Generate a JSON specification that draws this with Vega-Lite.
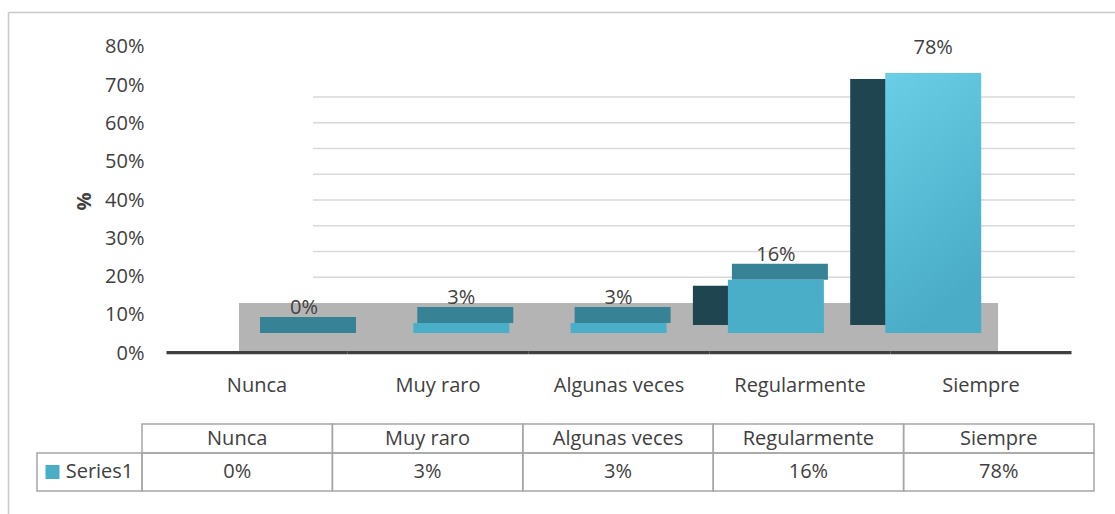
{
  "$schema": "https://vega.github.io/schema/vega-lite/v6.json",
  "width": 1107,
  "height": 502,
  "autosize": {"type": "none"},
  "padding": {"left": 8, "top": 12, "right": 0, "bottom": 0},
  "background": "white",
  "config": {
    "view": {"stroke": null},
    "font": "Open Sans",
    "axis": {"grid": false},
    "text": {"font": "Open Sans"}
  },
  "datasets": {
    "main": [
      {"cat": "Nunca", "value": 0, "series": "Series1"},
      {"cat": "Muy raro", "value": 0.03, "series": "Series1"},
      {"cat": "Algunas veces", "value": 0.03, "series": "Series1"},
      {"cat": "Regularmente", "value": 0.16, "series": "Series1"},
      {"cat": "Siempre", "value": 0.78, "series": "Series1"}
    ],
    "grid": [
      {"v": 0.1}, {"v": 0.2}, {"v": 0.3}, {"v": 0.4},
      {"v": 0.5}, {"v": 0.6}, {"v": 0.7}, {"v": 0.8}
    ]
  },
  "data": {"name": "main"},
  "resolve": {
    "scale": {"x": "independent", "y": "independent"},
    "axis": {"x": "independent", "y": "independent"}
  },
  "layer": [
    {
      "data": {"name": "grid"},
      "mark": {"type": "rule", "color": "#d9d9d9", "strokeWidth": 1.5},
      "encoding": {
        "x": {"datum": 0.1626, "type": "quantitative",
              "scale": {"domain": [-0.1725, 1.0439], "nice": false, "zero": false},
              "axis": {"orient": "top", "domain": true, "domainColor": "#c8c8c8", "domainWidth": 1.5,
                       "labels": false, "ticks": false, "grid": false, "title": null}},
        "x2": {"datum": 1},
        "y": {"field": "v", "type": "quantitative",
              "scale": {"domain": [-0.8194, 1.1301], "nice": false, "zero": false},
              "axis": {"orient": "left", "offset": 0, "domain": true, "domainColor": "#c8c8c8", "domainWidth": 1.5,
                       "labels": false, "ticks": false, "grid": false, "title": null}}
      }
    },
    {
      "data": {"values": [{}]},
      "mark": {"type": "rect", "color": "#b4b4b4"},
      "encoding": {
        "x": {"datum": 0.0813, "type": "quantitative",
              "scale": {"domain": [-0.1725, 1.0439], "nice": false, "zero": false}, "axis": null},
        "x2": {"datum": 0.9154},
        "y": {"datum": 0.1307, "type": "quantitative",
              "scale": {"domain": [-0.4209, 0.8915], "nice": false, "zero": false},
              "axis": {"orient": "left", "offset": -157,
                       "values": [0, 0.1, 0.2, 0.3, 0.4, 0.5, 0.6, 0.7, 0.8],
                       "format": ".0%", "domain": false, "ticks": false, "tickSize": 0,
                       "labelPadding": 21, "labelFontSize": 20, "labelColor": "#404040",
                       "grid": false, "title": "%", "titleFontSize": 20, "titleFontWeight": "bold",
                       "titleColor": "#404040", "titlePadding": 10, "titleY": 189}},
        "y2": {"datum": 0}
      }
    },
    {
      "mark": {"type": "rect", "color": "#404040"},
      "encoding": {
        "x": {"field": "cat", "type": "nominal",
              "scale": {"domain": ["Nunca", "Muy raro", "Algunas veces", "Regularmente", "Siempre"],
                        "range": [158.5, 1063.5], "paddingInner": 0, "paddingOuter": 0},
              "axis": {"orient": "bottom", "offset": -144, "domain": false, "ticks": false, "tickSize": 0,
                       "labelPadding": 5, "labelFontSize": 20, "labelColor": "#404040",
                       "labelAngle": 0, "grid": false, "title": null}},
        "y": {"datum": 0.005, "type": "quantitative",
              "scale": {"domain": [-0.4209, 0.8915], "nice": false, "zero": false}, "axis": null},
        "y2": {"datum": -0.003}
      }
    },
    {
      "encoding": {
        "x": {"field": "cat", "type": "nominal",
              "scale": {"domain": ["Nunca", "Muy raro", "Algunas veces", "Regularmente", "Siempre"],
                        "range": [248, 973.2], "paddingInner": 0.3897, "paddingOuter": 0},
              "axis": null},
        "y": {"field": "value", "type": "quantitative",
              "scale": {"domain": [-0.543, 0.963], "nice": false, "zero": false}, "axis": null}
      },
      "layer": [
        {
          "transform": [{"filter": "datum.value > 0.1"}],
          "mark": {"type": "bar", "color": "#1f4550", "xOffset": -35, "yOffset": 6, "y2Offset": -8},
          "encoding": {"y2": {"datum": 0}}
        },
        {
          "transform": [{"filter": "datum.value < 0.5"}],
          "mark": {"type": "bar", "color": "#388296", "yOffset": -16, "xOffset": 4},
          "encoding": {"y2": {"field": "value"}}
        },
        {
          "transform": [{"filter": "datum.value < 0.5"}],
          "mark": {"type": "bar", "color": "#4aaec9"},
          "encoding": {"y2": {"datum": 0}}
        },
        {
          "transform": [{"filter": "datum.value >= 0.5"}],
          "mark": {"type": "bar",
                   "color": {"gradient": "linear", "x1": 0, "y1": 0, "x2": 0.3, "y2": 1,
                             "stops": [{"offset": 0, "color": "#69cee6"}, {"offset": 1, "color": "#4aacc7"}]}},
          "encoding": {"y2": {"datum": 0}}
        },
        {
          "mark": {"type": "text", "fontSize": 20, "color": "#404040", "dy": -25, "baseline": "middle"},
          "encoding": {"text": {"field": "value", "type": "quantitative", "format": ".0%"}}
        }
      ]
    },
    {
      "encoding": {
        "x": {"field": "cat", "type": "nominal",
              "scale": {"domain": ["Nunca", "Muy raro", "Algunas veces", "Regularmente", "Siempre"],
                        "range": [134, 1086], "paddingInner": 0, "paddingOuter": 0},
              "axis": null},
        "y": {"datum": "header", "type": "nominal",
              "scale": {"domain": ["header"], "range": [412, 441], "paddingInner": 0, "paddingOuter": 0},
              "axis": null}
      },
      "layer": [
        {"mark": {"type": "rect", "fill": "transparent", "stroke": "#a6a6a6", "strokeWidth": 1.5}},
        {"mark": {"type": "text", "fontSize": 20, "color": "#404040", "baseline": "middle"},
         "encoding": {"text": {"field": "cat", "type": "nominal"}}}
      ]
    },
    {
      "encoding": {
        "x": {"field": "cat", "type": "nominal",
              "scale": {"domain": ["Nunca", "Muy raro", "Algunas veces", "Regularmente", "Siempre"],
                        "range": [134, 1086], "paddingInner": 0, "paddingOuter": 0},
              "axis": null},
        "y": {"field": "series", "type": "nominal",
              "scale": {"domain": ["Series1"], "range": [441, 479], "paddingInner": 0, "paddingOuter": 0},
              "axis": null}
      },
      "layer": [
        {"mark": {"type": "rect", "fill": "transparent", "stroke": "#a6a6a6", "strokeWidth": 1.5}},
        {"mark": {"type": "text", "fontSize": 20, "color": "#404040", "baseline": "middle"},
         "encoding": {"text": {"field": "value", "type": "quantitative", "format": ".0%"}}}
      ]
    },
    {
      "transform": [{"aggregate": [{"op": "count", "as": "n"}], "groupby": ["series"]}],
      "encoding": {
        "x": {"field": "series", "type": "nominal",
              "scale": {"domain": ["Series1"], "range": [29, 134], "paddingInner": 0, "paddingOuter": 0},
              "axis": null},
        "y": {"field": "series", "type": "nominal",
              "scale": {"domain": ["Series1"], "range": [441, 479], "paddingInner": 0, "paddingOuter": 0},
              "axis": null}
      },
      "layer": [
        {"mark": {"type": "rect", "fill": "transparent", "stroke": "#a6a6a6", "strokeWidth": 1.5}},
        {"mark": {"type": "point", "shape": "square", "filled": true, "size": 196, "color": "#4bacc6", "opacity": 1, "xOffset": -37}},
        {"mark": {"type": "text", "fontSize": 20, "color": "#404040", "baseline": "middle", "dx": 10},
         "encoding": {"text": {"field": "series", "type": "nominal"}}}
      ]
    }
  ]
}
